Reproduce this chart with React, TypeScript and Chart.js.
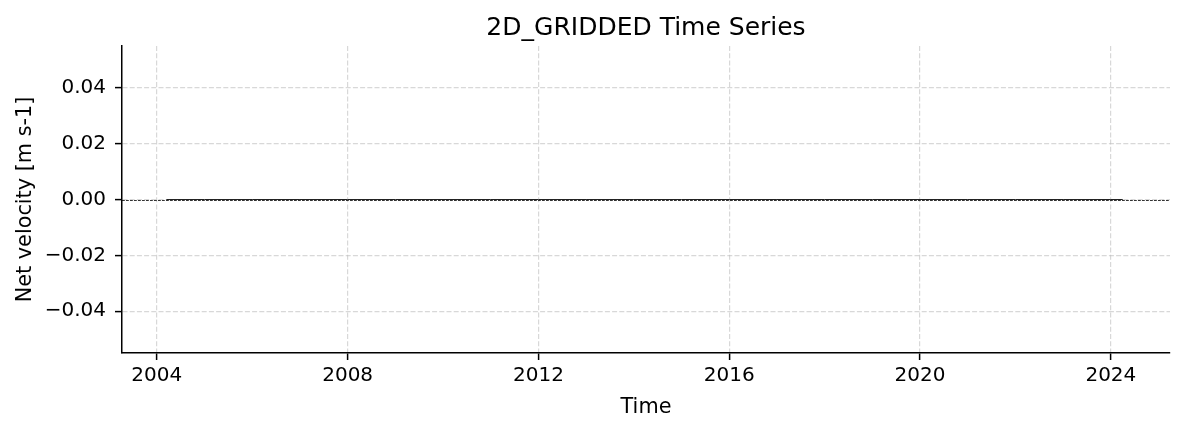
import React, { useEffect, useRef } from "react";
import { Chart, registerables } from "chart.js";

Chart.register(...registerables);

const TITLE = "2D_GRIDDED Time Series";
const X_LABEL = "Time";
const Y_LABEL = "Net velocity [m s-1]";

// decimal years of the series and its values (all read as zero)
const TIME = [2004.2, 2005, 2006, 2007, 2008, 2009, 2010, 2011, 2012, 2013, 2014, 2015, 2016, 2017, 2018, 2019, 2020, 2021, 2022, 2023, 2024, 2024.25];
const VELOCITY = [0, 0, 0, 0, 0, 0, 0, 0, 0, 0, 0, 0, 0, 0, 0, 0, 0, 0, 0, 0, 0, 0];

const X_TICKS = [2004, 2008, 2012, 2016, 2020, 2024];
const Y_TICKS = [-0.04, -0.02, 0, 0.02, 0.04];
const X_RANGE = [2003.27, 2025.24];
const Y_RANGE = [-0.055, 0.055];
const REF_LINE_Y = 0;

const FONT = "'DejaVu Sans', sans-serif";

const fmtY = (v: number) => {
  const s = Math.abs(v).toFixed(2);
  return v < -1e-9 ? "\u2212" + s : s;
};

const textPlugin = {
  id: "mplText",
  afterDatasetsDraw(chart: any) {
    const { ctx, chartArea, scales } = chart;
    ctx.save();
    // axhline dashed
    const y0 = Math.round(scales.y.getPixelForValue(REF_LINE_Y)) + 0.5;
    ctx.strokeStyle = "#000";
    ctx.lineWidth = 0.8;
    ctx.setLineDash([2.8, 1.2]);
    ctx.beginPath();
    ctx.moveTo(chartArea.left, y0);
    ctx.lineTo(chartArea.right, y0);
    ctx.stroke();
    ctx.setLineDash([]);
    ctx.restore();
  },
  afterDraw(chart: any) {
    const { ctx, chartArea } = chart;
    const cx = (chartArea.left + chartArea.right) / 2;
    ctx.save();
    ctx.fillStyle = "#000";
    ctx.textAlign = "center";
    ctx.textBaseline = "alphabetic";
    ctx.font = `25px ${FONT}`;
    ctx.fillText(TITLE, cx, 35);
    ctx.font = `20.8px ${FONT}`;
    ctx.fillText(X_LABEL, cx, 413);
    ctx.translate(31, (chartArea.top + chartArea.bottom) / 2);
    ctx.rotate(-Math.PI / 2);
    ctx.fillText(Y_LABEL, 0, 0);
    ctx.restore();
  },
};

export default function App() {
  const ref = useRef<HTMLCanvasElement | null>(null);
  useEffect(() => {
    document.body.style.margin = "0";
    const canvas = ref.current!;
    const chart = new Chart(canvas, {
      type: "line",
      data: {
        datasets: [
          {
            data: TIME.map((t, i) => ({ x: t, y: VELOCITY[i] })),
            borderColor: "#222",
            borderWidth: 1,
            pointRadius: 0,
            tension: 0,
          },
        ],
      },
      options: {
        animation: false,
        responsive: false,
        maintainAspectRatio: false,
        layout: { padding: { top: 46, right: 14, left: 0, bottom: 0 } },
        plugins: {
          legend: { display: false },
          title: { display: false },
          tooltip: { enabled: false },
        },
        scales: {
          x: {
            type: "linear",
            min: X_RANGE[0],
            max: X_RANGE[1],
            afterBuildTicks: (s: any) => {
              s.ticks = X_TICKS.map((v) => ({ value: v }));
            },
            afterFit: (s: any) => {
              s.height = 78;
            },
            ticks: {
              autoSkip: false,
              maxRotation: 0,
              padding: 4,
              color: "#000",
              font: { family: FONT, size: 20 },
              callback: (v: any) => String(v),
            },
            grid: {
              color: "rgba(190,190,190,0.6)",
              lineWidth: 1.2,
              tickLength: 7,
              tickColor: "#000",
              tickWidth: 1.5,
              tickBorderDash: [],
            },
            border: { color: "#000", width: 1.5, dash: [5, 2.2] },
          },
          y: {
            type: "linear",
            min: Y_RANGE[0],
            max: Y_RANGE[1],
            afterBuildTicks: (s: any) => {
              s.ticks = Y_TICKS.map((v) => ({ value: v }));
            },
            afterFit: (s: any) => {
              s.width = 122;
            },
            ticks: {
              autoSkip: false,
              padding: 9,
              color: "#000",
              font: { family: FONT, size: 20 },
              callback: (v: any) => fmtY(Number(v)),
            },
            grid: {
              color: "rgba(190,190,190,0.6)",
              lineWidth: 1.2,
              tickLength: 7,
              tickColor: "#000",
              tickWidth: 1.5,
              tickBorderDash: [],
            },
            border: { color: "#000", width: 1.5, dash: [5, 2.2] },
          },
        },
      },
      plugins: [textPlugin],
    } as any);
    return () => chart.destroy();
  }, []);
  return (
    <div style={{ position: "fixed", left: 0, top: 0, width: 1184, height: 431, background: "#fff" }}>
      <canvas ref={ref} width={1184} height={431} style={{ width: 1184, height: 431 }} />
    </div>
  );
}
